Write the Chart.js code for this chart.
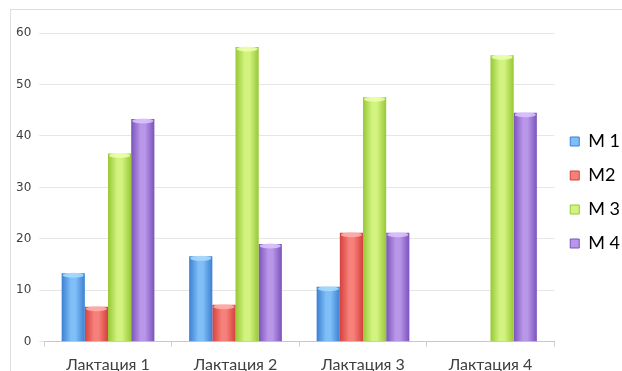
<!DOCTYPE html>
<html>
<head>
<meta charset="utf-8">
<script src="https://cdn.jsdelivr.net/npm/chart.js@4/dist/chart.umd.min.js"></script>
<style>
  html, body { margin: 0; padding: 0; background: #fff; overflow: hidden; }
  #frame { position: absolute; left: 10px; top: 9px; width: 640px; height: 400px; border: 1px solid #dedede; }
  #wrap { position: absolute; left: 0; top: 0; width: 630px; height: 382px; }
</style>
</head>
<body>
<div id="frame"></div>
<div id="wrap"><canvas id="chart"></canvas></div>
<script>
// категории и серии
const categories = ['Лактация 1', 'Лактация 2', 'Лактация 3', 'Лактация 4'];
const seriesNames = ['М 1', 'М2', 'М 3', 'М 4'];
const m1 = [13.3, 16.6, 10.7, null];
const m2 = [6.8, 7.2, 21.2, null];
const m3 = [36.6, 57.3, 47.5, 55.7];
const m4 = [43.3, 19.0, 21.2, 44.5];

// цвета: [край, середина, верх]
const palette = [
    ['#3b80d2', '#7fbef7', '#a9dcff'],
    ['#d6403c', '#f6807a', '#ffb3ad'],
    ['#98c736', '#d2f47f', '#ecffb0'],
    ['#7b53bb', '#b896e8', '#dcc6ff']
];

// цилиндрическая заливка столбика по его ширине
function barFill(ctx) {
    const c = palette[ctx.datasetIndex];
    if (ctx.type !== 'data') return c[0];
    const bar = ctx.chart.getDatasetMeta(ctx.datasetIndex).data[ctx.dataIndex];
    if (!bar || !bar.width) return c[0];
    const x0 = bar.x - bar.width / 2;
    const g = ctx.chart.ctx.createLinearGradient(x0, 0, x0 + bar.width, 0);
    g.addColorStop(0, c[0]);
    g.addColorStop(0.4, c[1]);
    g.addColorStop(0.6, c[1]);
    g.addColorStop(1, c[0]);
    return g;
}

// светлая "крышка" сверху каждого столбика
const capPlugin = {
    id: 'caps',
    afterDatasetsDraw(chart) {
        const ctx = chart.ctx;
        chart.data.datasets.forEach((ds, i) => {
            const c = palette[i];
            chart.getDatasetMeta(i).data.forEach((bar, j) => {
                if (ds.data[j] == null) return;
                const w = bar.width;
                ctx.save();
                ctx.beginPath();
                ctx.ellipse(bar.x, bar.y + 2, w / 2 - 1, 2.5, 0, 0, Math.PI * 2);
                ctx.fillStyle = c[2];
                ctx.globalAlpha = 0.85;
                ctx.fill();
                ctx.restore();
            });
        });
    }
};

// легенду приподнимаем относительно центра
const legendShift = {
    id: 'legendShift',
    afterLayout(chart) {
        chart.legend.top -= 15;
        chart.legend.bottom -= 15;
    }
};

const datasets = [m1, m2, m3, m4].map((values, i) => ({
    label: seriesNames[i],
    data: values,
    backgroundColor: barFill,
    borderWidth: 0,
    categoryPercentage: 4 / 5.5,
    barPercentage: 1.0
}));

const chart = new Chart(document.getElementById('chart'), {
    type: 'bar',
    data: { labels: categories, datasets: datasets },
    plugins: [capPlugin, legendShift],
    options: {
        responsive: true,
        maintainAspectRatio: false,
        animation: false,
        layout: { padding: { left: 8, top: 33, right: 0, bottom: 0 } },
        plugins: {
            tooltip: { enabled: false },
            legend: {
                position: 'right',
                labels: {
                    boxWidth: 9,
                    boxHeight: 9,
                    padding: 16,
                    color: '#404040',
                    font: { family: 'Lato', size: 18 },
                    generateLabels(ch) {
                        return ch.data.datasets.map((ds, i) => ({
                            text: ds.label,
                            fillStyle: palette[i][1],
                            strokeStyle: palette[i][0],
                            lineWidth: 1,
                            datasetIndex: i
                        }));
                    }
                }
            }
        },
        scales: {
            x: {
                grid: { display: true, drawOnChartArea: false, offset: true, tickLength: 5, color: '#d0d0d0' },
                border: { color: '#c8c8c8' },
                ticks: { color: '#404040', padding: 8, font: { family: 'Lato', size: 16 } }
            },
            y: {
                min: 0,
                max: 60,
                grid: { color: '#e6e6e6', tickLength: 5 },
                border: { display: false },
                ticks: { stepSize: 10, color: '#404040', padding: 8, font: { family: 'DejaVu Sans', size: 12 } }
            }
        }
    }
});

// второй проход: градиенты строятся по уже посчитанной геометрии столбиков
chart.update();
</script>
</body>
</html>
